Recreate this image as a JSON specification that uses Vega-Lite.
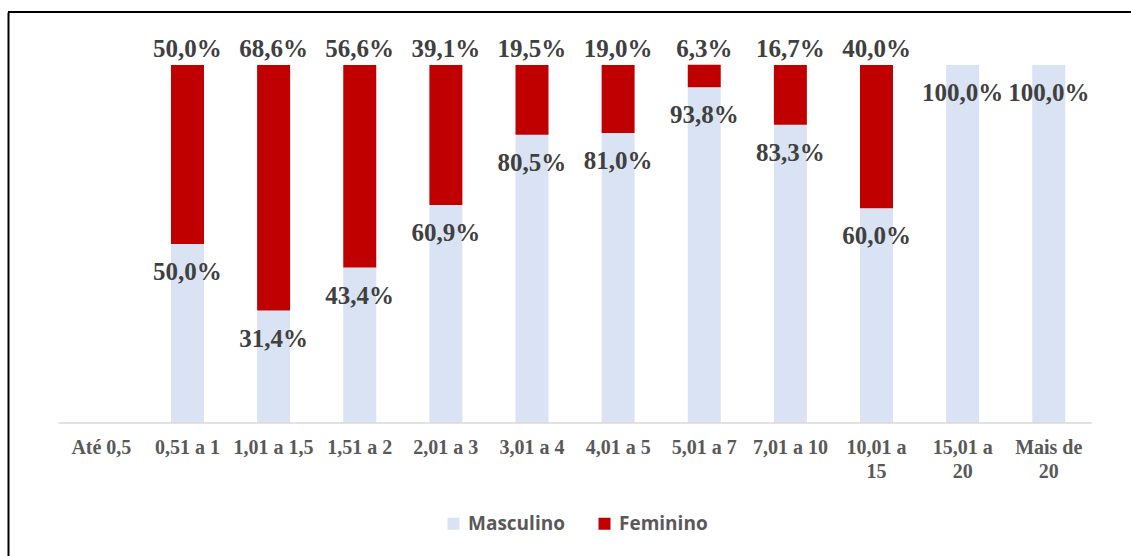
{
  "$schema": "https://vega.github.io/schema/vega-lite/v6.json",
  "width": 1123,
  "height": 544,
  "autosize": {"type": "none"},
  "padding": {"left": 8, "top": 12, "right": 0, "bottom": 0},
  "background": "white",
  "config": {
    "view": {"stroke": null},
    "locale": {"number": {"decimal": ",", "thousands": ".", "grouping": [3], "currency": ["R$", ""]}}
  },
  "datasets": {
    "shares": [
      {"cat": "0,51 a 1", "sex": "Masculino", "pct": 0.5},
      {"cat": "0,51 a 1", "sex": "Feminino", "pct": 0.5},
      {"cat": "1,01 a 1,5", "sex": "Masculino", "pct": 0.314},
      {"cat": "1,01 a 1,5", "sex": "Feminino", "pct": 0.686},
      {"cat": "1,51 a 2", "sex": "Masculino", "pct": 0.434},
      {"cat": "1,51 a 2", "sex": "Feminino", "pct": 0.566},
      {"cat": "2,01 a 3", "sex": "Masculino", "pct": 0.609},
      {"cat": "2,01 a 3", "sex": "Feminino", "pct": 0.391},
      {"cat": "3,01 a 4", "sex": "Masculino", "pct": 0.805},
      {"cat": "3,01 a 4", "sex": "Feminino", "pct": 0.195},
      {"cat": "4,01 a 5", "sex": "Masculino", "pct": 0.81},
      {"cat": "4,01 a 5", "sex": "Feminino", "pct": 0.19},
      {"cat": "5,01 a 7", "sex": "Masculino", "pct": 0.938},
      {"cat": "5,01 a 7", "sex": "Feminino", "pct": 0.063},
      {"cat": "7,01 a 10", "sex": "Masculino", "pct": 0.833},
      {"cat": "7,01 a 10", "sex": "Feminino", "pct": 0.167},
      {"cat": "10,01 a 15", "sex": "Masculino", "pct": 0.6},
      {"cat": "10,01 a 15", "sex": "Feminino", "pct": 0.4},
      {"cat": "15,01 a 20", "sex": "Masculino", "pct": 1.0},
      {"cat": "Mais de 20", "sex": "Masculino", "pct": 1.0}
    ],
    "frame": [{"first": "Até 0,5", "last": "Mais de 20", "base": 0, "top": 1.148}]
  },
  "layer": [
    {
      "data": {"name": "shares"},
      "transform": [
        {"stack": "pct", "groupby": ["cat"], "sort": [{"field": "sex", "order": "descending"}], "as": ["y0", "y1"], "offset": "zero"}
      ],
      "layer": [
        {
          "mark": {"type": "bar"},
          "encoding": {
            "x": {
              "field": "cat",
              "type": "nominal",
              "scale": {
                "domain": ["Até 0,5", "0,51 a 1", "1,01 a 1,5", "1,51 a 2", "2,01 a 3", "3,01 a 4", "4,01 a 5", "5,01 a 7", "7,01 a 10", "10,01 a 15", "15,01 a 20", "Mais de 20"],
                "paddingInner": 0.6169,
                "paddingOuter": 0.828,
                "align": 0.539
              },
              "axis": {
                "orient": "bottom",
                "offset": -133,
                "domain": false,
                "ticks": false,
                "grid": false,
                "title": null,
                "labelAngle": 0,
                "labelFont": "Liberation Serif",
                "labelFontSize": 20,
                "labelFontWeight": "bold",
                "labelColor": "#595959",
                "labelPadding": 14,
                "labelLineHeight": 24,
                "labelBaseline": "top",
                "labelOverlap": false,
                "labelBound": false,
                "labelLimit": 0,
                "labelExpr": "indexof(['10,01 a 15','15,01 a 20','Mais de 20'], datum.label) >= 0 ? [slice(datum.label, 0, lastindexof(datum.label, ' ')), slice(datum.label, lastindexof(datum.label, ' ') + 1)] : datum.label"
              }
            },
            "y": {
              "field": "y1",
              "type": "quantitative",
              "scale": {"domain": [-0.3715, 1.148], "nice": false, "zero": false},
              "axis": {
                "labels": false,
                "ticks": false,
                "grid": false,
                "title": null,
                "domainColor": "#000000",
                "domainWidth": 2
              }
            },
            "y2": {"field": "y0"},
            "color": {
              "field": "sex",
              "type": "nominal",
              "scale": {"domain": ["Masculino", "Feminino"], "range": ["#dae3f3", "#c00000"]},
              "legend": {
                "orient": "none",
                "legendX": 436,
                "legendY": 502,
                "direction": "horizontal",
                "title": null,
                "padding": 0,
                "symbolType": "square",
                "symbolSize": 144,
                "symbolStrokeWidth": 0,
                "labelFont": "Open Sans",
                "labelFontSize": 19,
                "labelFontWeight": "bold",
                "labelColor": "#595959",
                "labelOffset": 5,
                "columnPadding": 30
              }
            }
          }
        },
        {
          "transform": [{"filter": "datum.sex == 'Masculino'"}],
          "mark": {"type": "text", "font": "Liberation Serif", "fontSize": 25, "fontWeight": "bold", "color": "#404040", "baseline": "alphabetic", "dy": 36},
          "encoding": {
            "x": {"field": "cat", "type": "nominal"},
            "y": {"field": "y1", "type": "quantitative"},
            "text": {"field": "pct", "type": "quantitative", "format": ".1%"}
          }
        },
        {
          "transform": [{"filter": "datum.sex == 'Feminino'"}],
          "mark": {"type": "text", "font": "Liberation Serif", "fontSize": 25, "fontWeight": "bold", "color": "#404040", "baseline": "alphabetic", "dy": -8},
          "encoding": {
            "x": {"field": "cat", "type": "nominal"},
            "y": {"field": "y1", "type": "quantitative"},
            "text": {"field": "pct", "type": "quantitative", "format": ".1%"}
          }
        }
      ]
    },
    {
      "data": {"name": "frame"},
      "mark": {"type": "rule", "color": "#d9d9d9", "strokeWidth": 1.5, "xOffset": -43, "x2Offset": 43},
      "encoding": {
        "x": {"field": "first", "type": "nominal"},
        "x2": {"field": "last"},
        "y": {"field": "base", "type": "quantitative"}
      }
    },
    {
      "data": {"name": "frame"},
      "mark": {"type": "rule", "color": "#000000", "strokeWidth": 2},
      "encoding": {
        "y": {"field": "top", "type": "quantitative"}
      }
    }
  ]
}
